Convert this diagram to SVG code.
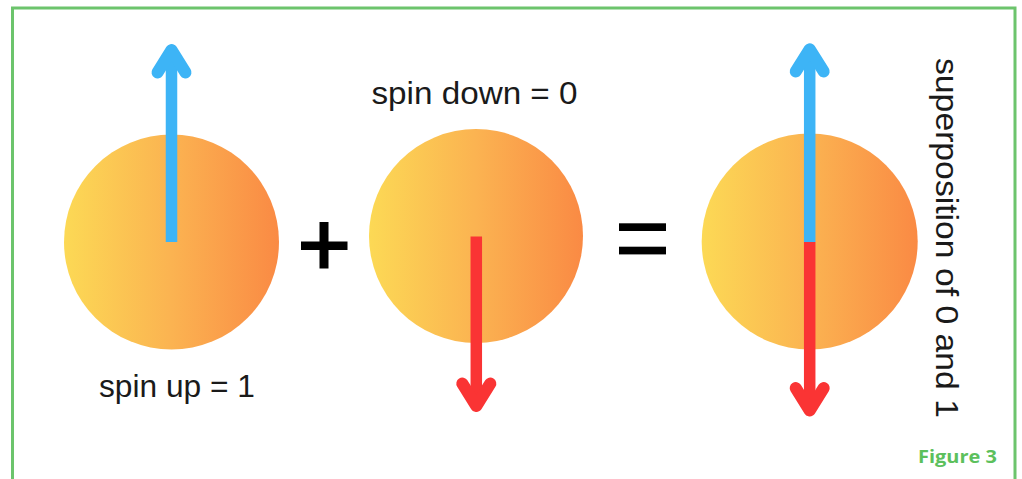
<svg xmlns="http://www.w3.org/2000/svg" width="1022" height="479" viewBox="0 0 1022 479">
  <defs>
    <linearGradient id="ball" x1="0" y1="0" x2="1" y2="0">
      <stop offset="0" stop-color="#fcd955"/>
      <stop offset="0.5" stop-color="#fbb351"/>
      <stop offset="1" stop-color="#fa8a44"/>
    </linearGradient>
  </defs>
  <style>
    .ball { fill: url(#ball); }
    .blue { stroke: #3db4f6; fill: none; }
    .red { stroke: #fa3434; fill: none; }
    .shaft { stroke-width: 11.5; stroke-linecap: butt; }
    .head { stroke-width: 12; stroke-linecap: round; stroke-linejoin: round; }
    .lbl { font-family: "Liberation Sans", Arial, sans-serif; font-size: 31px; fill: #1a1a1a; }
    .op { fill: #000; }
    .fig { font-family: "Open Sans", "Liberation Sans", sans-serif; font-weight: bold; font-size: 18px; fill: #5cc05c; }
  </style>
  <rect width="1022" height="479" fill="#fff"/>
  <path d="M12.5,479 V8 H1015 V479" fill="none" stroke="#6cc46c" stroke-width="3"/>

  <g id="spin-up">
    <circle class="ball" cx="171.5" cy="242" r="107.5"/>
    <line class="blue shaft" x1="171.5" y1="242" x2="171.5" y2="52"/>
    <polyline class="blue head" points="157.5,72.5 171.5,50 185.5,72.5"/>
    <text class="lbl" x="99" y="397" textLength="156" lengthAdjust="spacingAndGlyphs">spin up = 1</text>
  </g>

  <g id="plus">
    <rect class="op" x="319.5" y="222" width="9" height="46.5"/>
    <rect class="op" x="301" y="241.5" width="46.5" height="8.5"/>
  </g>

  <g id="spin-down">
    <circle class="ball" cx="476" cy="236" r="107"/>
    <line class="red shaft" x1="476.3" y1="236.5" x2="476.3" y2="404"/>
    <polyline class="red head" points="462.3,383.5 476.3,406 490.3,383.5"/>
    <text class="lbl" x="371.5" y="103.5" textLength="206" lengthAdjust="spacingAndGlyphs">spin down = 0</text>
  </g>

  <g id="equals">
    <rect class="op" x="619" y="223.3" width="47" height="7.7"/>
    <rect class="op" x="619" y="246.7" width="47" height="7.7"/>
  </g>

  <g id="superposition">
    <circle class="ball" cx="809.7" cy="241.5" r="108"/>
    <line class="blue shaft" x1="809.7" y1="242" x2="809.7" y2="51"/>
    <polyline class="blue head" points="795.7,71.5 809.7,49.3 823.7,71.5"/>
    <line class="red shaft" x1="809.7" y1="242" x2="809.7" y2="409"/>
    <polyline class="red head" points="795.7,388 809.7,410.5 823.7,388"/>
    <text class="lbl" transform="translate(936,58) rotate(90)" x="0" y="0" font-size="33" textLength="360" lengthAdjust="spacingAndGlyphs">superposition of 0 and 1</text>
  </g>

  <g id="connectors"></g>

  <text class="fig" x="918" y="463.3" textLength="79" lengthAdjust="spacingAndGlyphs">Figure 3</text>
</svg>
